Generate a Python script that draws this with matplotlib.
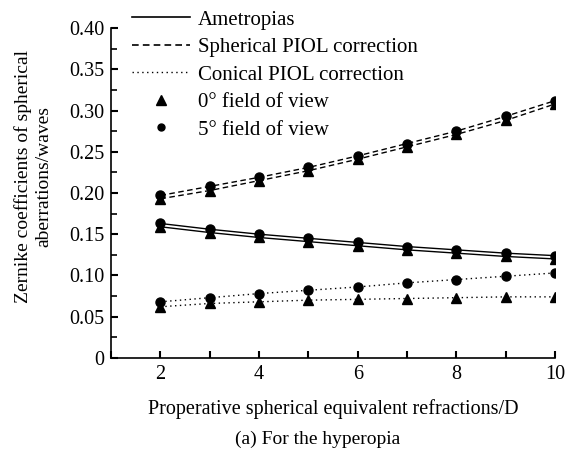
import matplotlib
matplotlib.use("Agg")
import matplotlib.pyplot as plt
from matplotlib.lines import Line2D
from matplotlib.ticker import MultipleLocator, FuncFormatter

plt.rcParams['font.family'] = ['Liberation Serif', 'DejaVu Serif']

# preoperative refraction (D)
refr = [2, 3, 4, 5, 6, 7, 8, 9, 10]

# ametropias
amet_5 = [0.163, 0.156, 0.150, 0.145, 0.140, 0.135, 0.131, 0.127, 0.124]
amet_0 = [0.159, 0.152, 0.146, 0.141, 0.136, 0.131, 0.127, 0.123, 0.120]
# spherical PIOL correction
sph_5 = [0.197, 0.208, 0.219, 0.231, 0.245, 0.260, 0.275, 0.293, 0.312]
sph_0 = [0.193, 0.203, 0.215, 0.227, 0.241, 0.256, 0.271, 0.288, 0.308]
# conical PIOL correction
con_5 = [0.068, 0.073, 0.078, 0.082, 0.086, 0.091, 0.095, 0.099, 0.103]
con_0 = [0.062, 0.066, 0.068, 0.070, 0.071, 0.072, 0.073, 0.074, 0.074]

fig = plt.figure(figsize=(5.67, 4.53), dpi=100)
ax = fig.add_axes([0.196, 0.21, 0.783, 0.728])

dash = (0, (4, 2.5))
dot = (0, (1, 2.5))
lw = 1.0
for y, ls in [(amet_5, '-'), (sph_5, dash), (con_5, dot)]:
    ax.plot(refr, y, color='k', lw=lw, ls=ls, marker='o', ms=6.5)
for y, ls in [(amet_0, '-'), (sph_0, dash), (con_0, dot)]:
    ax.plot(refr, y, color='k', lw=lw, ls=ls, marker='^', ms=7)

ax.set_xlim(1, 10)
ax.set_ylim(0, 0.40)
ax.xaxis.set_major_locator(MultipleLocator(2))
ax.xaxis.set_minor_locator(MultipleLocator(1))
ax.yaxis.set_major_locator(MultipleLocator(0.05))
ax.yaxis.set_minor_locator(MultipleLocator(0.025))
ax.yaxis.set_major_formatter(FuncFormatter(lambda v, p: '0' if abs(v) < 1e-9 else '%.2f' % v))
ax.spines['top'].set_visible(False)
ax.spines['right'].set_visible(False)
for s in ['left', 'bottom']:
    ax.spines[s].set_linewidth(1.2)
ax.tick_params(which='major', direction='in', length=5, width=1.5, labelsize=14.5, pad=5)
ax.tick_params(which='minor', direction='in', length=4, width=1.2)
ax.tick_params(axis='x', which='minor', length=5, width=1.5)

ax.set_xlabel('Properative spherical equivalent refractions/D', fontsize=14.5, labelpad=11)
ax.set_ylabel('Zernike coefficients of spherical\naberrations/waves', fontsize=14)
ax.yaxis.set_label_coords(-0.133, 0.55)
fig.text(0.56, 0.02, '(a) For the hyperopia', ha='center', fontsize=14)

handles = [
    Line2D([], [], color='k', lw=1.2, ls='-'),
    Line2D([], [], color='k', lw=1.2, ls=(0, (4, 2.5))),
    Line2D([], [], color='k', lw=1.0, ls=(0, (1, 2.5))),
    Line2D([], [], color='k', ls='none', marker='^', ms=6.5),
    Line2D([], [], color='k', ls='none', marker='o', ms=5),
]
labels = ['Ametropias', 'Spherical PIOL correction', 'Conical PIOL correction',
          '0° field of view', '5° field of view']
fig.legend(handles, labels, loc='upper left', bbox_to_anchor=(0.233, 0.978),
           frameon=False, fontsize=15, handlelength=2.8, handletextpad=0.35,
           labelspacing=0.38, borderpad=0, borderaxespad=0)

fig.savefig('out.png', dpi=100)
